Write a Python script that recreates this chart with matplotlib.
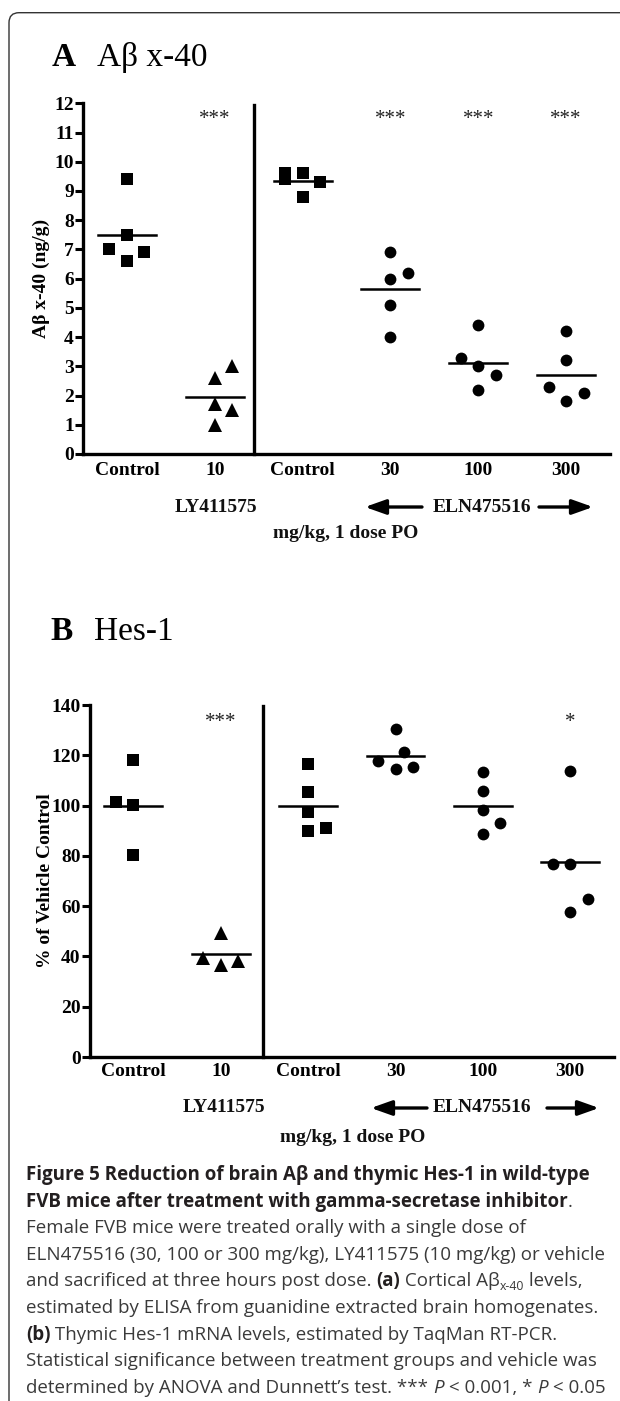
import matplotlib
matplotlib.use('Agg')
import matplotlib.pyplot as plt
from matplotlib.patches import FancyBboxPatch, FancyArrowPatch
import numpy as np

W, H = 620, 1401
SERIF = 'Liberation Serif'
SANS = 'Open Sans'

groups = ['Control', '10', 'Control', '30', '100', '300']
markers = ['s', '^', 's', 'o', 'o', 'o']

# panel A: A-beta x-40 (ng/g), one list per group
abeta_vals = [
    [9.4, 7.5, 7.0, 6.9, 6.6],
    [3.0, 2.6, 1.7, 1.5, 1.0],
    [9.6, 9.4, 9.6, 9.3, 8.8],
    [6.9, 6.2, 6.0, 5.1, 4.0],
    [4.4, 3.3, 3.0, 2.7, 2.2],
    [4.2, 3.2, 2.3, 2.1, 1.8],
]
abeta_stars = ['', '***', '', '***', '***', '***']

# panel B: Hes-1, % of vehicle control
hes_vals = [
    [118.0, 101.3, 100.3, 80.5],
    [49.5, 39.5, 36.5, 38.0],
    [116.7, 105.3, 97.4, 89.7, 90.9],
    [130.5, 121.3, 117.9, 115.3, 114.5],
    [113.4, 105.9, 98.2, 92.9, 88.8],
    [113.6, 76.7, 76.7, 62.8, 57.6],
]
hes_stars = ['', '***', '', '', '', '*']

# horizontal scatter of the points (steps of 0.2 category)
abeta_jit = [[0, 0, -1, 1, 0], [1, 0, 0, 1, 0], [-1, -1, 0, 1, 0],
             [0, 1, 0, 0, 0], [0, -1, 0, 1, 0], [0, 0, -1, 1, 0]]
hes_jit = [[0, -1, 0, 0], [0, -1, 0, 1], [0, 0, 0, 0, 1],
           [0, 0.5, -1, 1, 0], [0, 0, 0, 1, 0], [0, -1, 0, 1, 0]]

fig = plt.figure(figsize=(W / 100, H / 100), dpi=100)


def px_axes(x0, x1, ytop, ybot):
    return fig.add_axes([x0 / W, 1 - ybot / H, (x1 - x0) / W, (ybot - ytop) / H])


def panel(ax, vals, jit, stars, ymax, step, star_y, div_x, div_top, ylabel, lab_x, pad):
    for i, (v, j, m) in enumerate(zip(vals, jit, markers)):
        x = i + 0.2 * np.array(j)
        ms = 9.5 if m == '^' else 8.5
        ax.plot(x, v, ls='none', marker=m, ms=ms, color='black', mew=0, clip_on=False)
        ax.plot([i - 0.33, i + 0.33], [np.mean(v)] * 2, color='black', lw=1.8)
        if stars[i]:
            ax.text(i, star_y, stars[i], ha='center', va='center', fontsize=15,
                    family=SERIF, color='#222')
    ax.plot([div_x, div_x], [0, div_top], color='black', lw=2.4, clip_on=False)
    ax.set_xlim(-0.5, 5.5)
    ax.set_ylim(0, ymax)
    ax.set_yticks(np.arange(0, ymax + step / 2, step))
    ax.set_xticks(range(6))
    ax.set_xticklabels(groups)
    for s in ['top', 'right']:
        ax.spines[s].set_visible(False)
    for s in ['left', 'bottom']:
        ax.spines[s].set_linewidth(2.4)
    ax.tick_params(axis='y', length=6, width=2.2, pad=0.5)
    ax.tick_params(axis='x', length=0, pad=pad)
    for t in ax.get_yticklabels():
        t.set_fontfamily(SERIF)
        t.set_fontweight('bold')
        t.set_fontsize(14)
    for t in ax.get_xticklabels():
        t.set_fontfamily(SERIF)
        t.set_fontweight('bold')
        t.set_fontsize(14)
    ax.set_ylabel(ylabel, fontfamily=SERIF, fontweight='bold', fontsize=14)
    ax.yaxis.set_label_coords(lab_x, 0.5)


axA = px_axes(83, 610, 103.3, 454)
panel(axA, abeta_vals, abeta_jit, abeta_stars, 12, 1, 11.45, 1.45, 11.95,
      'A\u03b2 x-40 (ng/g)', -0.062, 6)

axB = px_axes(89.6, 614, 705, 1057)
panel(axB, hes_vals, hes_jit, hes_stars, 140, 20, 133, 1.48, 139.5,
      '% of Vehicle Control', -0.068, 4)


def ftext(x, y, s, **kw):
    return fig.text(x / W, 1 - y / H, s, **kw)


lab = dict(family=SERIF, weight='bold', fontsize=14, ha='center', va='center', color='#111')

# titles
ftext(52, 66, 'A', family=SERIF, weight='bold', fontsize=24, va='baseline')
ftext(97, 66, 'A\u03b2 x-40', family=SERIF, fontsize=24, va='baseline')
ftext(50, 640, 'B', family=SERIF, weight='bold', fontsize=24, va='baseline')
ftext(94, 640, 'Hes-1', family=SERIF, fontsize=24, va='baseline')

# group labels and arrows
for (ly_x, eln_x, mg_x, row_y, mg_y, la, ra) in [
        (216, 482, 346, 507, 533, (422, 365), (539, 593)),
        (224, 482, 353, 1108, 1137, (427, 371), (547, 599))]:
    ftext(ly_x, row_y, 'LY411575', **lab)
    ftext(eln_x, row_y, 'ELN475516', **lab)
    ftext(mg_x, mg_y, 'mg/kg, 1 dose PO', **lab)
    for tail, tip in [la, ra]:
        fig.add_artist(FancyArrowPatch(
            (tail / W, 1 - row_y / H), (tip / W, 1 - row_y / H),
            transform=fig.transFigure, arrowstyle='-|>,head_length=0.9,head_width=0.32',
            mutation_scale=14, lw=2.4, color='black', shrinkA=0, shrinkB=0))

# frame round the figure (bottom and right edges fall outside the image)
frame = FancyBboxPatch((0.09, -1.0), 8.0, (H - 12.7) / 100 + 1.0,
                       boxstyle='round,pad=0,rounding_size=0.1',
                       transform=fig.dpi_scale_trans, fill=False,
                       edgecolor='#333333', lw=1.0)
fig.add_artist(frame)

# caption
caption = [
    [('Figure 5 Reduction of brain A\u03b2 and thymic Hes-1 in wild-type', 'b')],
    [('FVB mice after treatment with gamma-secretase inhibitor', 'b'), ('.', '')],
    [('Female FVB mice were treated orally with a single dose of', '')],
    [('ELN475516 (30, 100 or 300 mg/kg), LY411575 (10 mg/kg) or vehicle', '')],
    [('and sacrificed at three hours post dose. ', ''), ('(a)', 'b'),
     (' Cortical A\u03b2', ''), ('x-40', 's'), (' levels,', '')],
    [('estimated by ELISA from guanidine extracted brain homogenates.', '')],
    [('(b)', 'b'), (' Thymic Hes-1 mRNA levels, estimated by TaqMan RT-PCR.', '')],
    [('Statistical significance between treatment groups and vehicle was', '')],
    [('determined by ANOVA and Dunnett\u2019s test. *** ', ''), ('P', 'i'),
     (' < 0.001, * ', ''), ('P', 'i'), (' < 0.05', '')],
]

renderer = fig.canvas.get_renderer()
probe = ftext(0, 0, caption[3][0][0], family=SANS, fontsize=10)
cap_fs = 10 * 580 / probe.get_window_extent(renderer).width
probe.remove()

for k, parts in enumerate(caption):
    x = 26
    y = 1180 + 26.6 * k
    for txt, st in parts:
        kw = dict(family=SANS, fontsize=cap_fs, color='#3a3a3a', va='baseline')
        dy = 0
        if 'b' in st:
            kw['weight'] = 'bold'
            kw['color'] = '#231f20'
        if 'i' in st:
            kw['style'] = 'italic'
        if 's' in st:
            kw['fontsize'] = cap_fs * 0.65
            dy = 4
        t = ftext(x, y + dy, txt, **kw)
        x += t.get_window_extent(renderer).width

fig.savefig('out.png', dpi=100)
